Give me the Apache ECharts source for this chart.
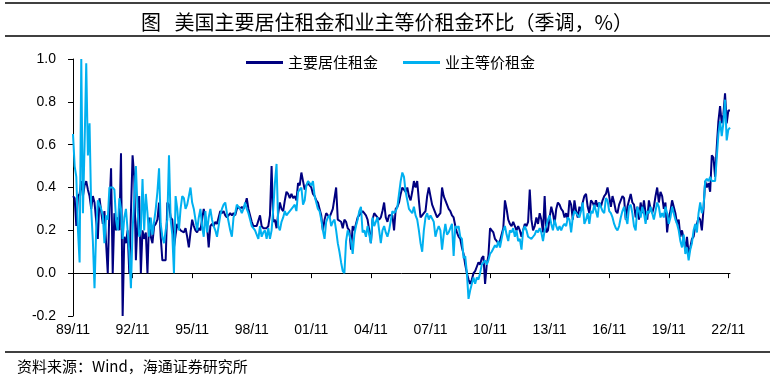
<!DOCTYPE html>
<html><head><meta charset="utf-8">
<script src="https://cdn.jsdelivr.net/npm/echarts/dist/echarts.min.js"></script>
<style>html,body{margin:0;padding:0;background:#fff}#c{width:774px;height:385px}</style>
</head><body><div id="c"></div>
<script>
// monthly, 1989/11 .. 2022/12
const startYear = 1989, startMonth = 11, monthCount = 398;
const categories = [];
for (let k = 0; k < monthCount; k++) {
  const m = (startMonth - 1 + k) % 12 + 1;
  const y = startYear + Math.floor((startMonth - 1 + k) / 12);
  categories.push(String(y % 100).padStart(2, '0') + '/' + String(m).padStart(2, '0'));
}
const seriesNames = ['主要居住租金', '业主等价租金'];
// 主要居住租金 环比(%)
const rentPrimary = [
  0.36, 0.35,
  0.22, 0.36, 0.37, 0.43, 0.36, 0.41, 0.43, 0.39, 0.36, 0.30, 0.36, 0.33,
  0.33, 0.16, 0.35, 0.35, 0.23, 0.29, 0.14, 0.00, 0.30, 0.49, 0.00, 0.28,
  0.20, 0.26, 0.20, 0.56, -0.20, 0.17, 0.14, 0.20, 0.00, 0.28, 0.55, 0.45,
  0.06, 0.24, 0.36, 0.00, 0.20, 0.16, 0.19, 0.00, 0.26, 0.17, 0.14, 0.22,
  0.23, 0.25, 0.33, 0.17, 0.06, 0.06, 0.06, 0.33, 0.32, 0.26, 0.25, 0.12,
  0.18, 0.23, 0.21, 0.20, 0.20, 0.19, 0.21, 0.17, 0.12, 0.19, 0.25, 0.22,
  0.20, 0.19, 0.21, 0.20, 0.25, 0.30, 0.30, 0.22, 0.12, 0.22, 0.23, 0.22,
  0.24, 0.23, 0.26, 0.29, 0.28, 0.29, 0.27, 0.26, 0.27, 0.28, 0.27, 0.28,
  0.27, 0.30, 0.31, 0.30, 0.31, 0.30, 0.32, 0.35, 0.30, 0.30, 0.24, 0.22,
  0.22, 0.22, 0.22, 0.27, 0.22, 0.21, 0.21, 0.21, 0.22, 0.27, 0.50, 0.24,
  0.25, 0.21, 0.28, 0.33, 0.30, 0.29, 0.34, 0.38, 0.37, 0.35, 0.37, 0.35,
  0.36, 0.34, 0.42, 0.41, 0.47, 0.43, 0.39, 0.41, 0.42, 0.41, 0.40, 0.37,
  0.36, 0.34, 0.33, 0.30, 0.27, 0.20, 0.25, 0.28, 0.27, 0.26, 0.28, 0.30,
  0.30, 0.40, 0.25, 0.25, 0.24, 0.21, 0.25, 0.24, 0.21, 0.20, 0.11, 0.22,
  0.20, 0.23, 0.26, 0.26, 0.28, 0.29, 0.28, 0.27, 0.25, 0.20, 0.14, 0.25,
  0.28, 0.27, 0.27, 0.25, 0.26, 0.29, 0.33, 0.26, 0.24, 0.27, 0.27, 0.27,
  0.20, 0.30, 0.31, 0.33, 0.37, 0.40, 0.39, 0.38, 0.40, 0.36, 0.34, 0.38,
  0.43, 0.40, 0.43, 0.34, 0.26, 0.27, 0.28, 0.29, 0.36, 0.40, 0.36, 0.32,
  0.30, 0.28, 0.26, 0.26, 0.28, 0.40, 0.36, 0.34, 0.32, 0.30, 0.29, 0.27,
  0.26, 0.22, 0.19, 0.17, 0.16, 0.12, 0.09, 0.04, 0.00, -0.03, -0.05, -0.03,
  0.00, 0.01, 0.03, 0.05, 0.04, 0.07, 0.08, -0.05, 0.04, 0.08, 0.21, 0.20,
  0.19, 0.16, 0.16, 0.14, 0.15, 0.18, 0.21, 0.34, 0.30, 0.25, 0.23, 0.22,
  0.24, 0.22, 0.20, 0.22, 0.20, 0.17, 0.20, 0.23, 0.22, 0.24, 0.39, 0.25,
  0.20, 0.22, 0.26, 0.23, 0.28, 0.25, 0.19, 0.36, 0.19, 0.20, 0.26, 0.31,
  0.28, 0.23, 0.30, 0.33, 0.32, 0.30, 0.29, 0.26, 0.28, 0.25, 0.34, 0.32,
  0.25, 0.34, 0.29, 0.26, 0.31, 0.29, 0.33, 0.36, 0.37, 0.31, 0.28, 0.34,
  0.33, 0.31, 0.34, 0.31, 0.33, 0.31, 0.34, 0.36, 0.37, 0.40, 0.36, 0.31,
  0.36, 0.33, 0.29, 0.28, 0.32, 0.34, 0.36, 0.35, 0.25, 0.31, 0.34, 0.37,
  0.33, 0.32, 0.26, 0.31, 0.25, 0.33, 0.28, 0.34, 0.28, 0.25, 0.34, 0.30,
  0.28, 0.31, 0.36, 0.40, 0.33, 0.38, 0.36, 0.30, 0.33, 0.19, 0.26, 0.29,
  0.34, 0.31, 0.28, 0.23, 0.25, 0.17, 0.20, 0.16, 0.11, 0.17, 0.09, 0.12,
  0.16, 0.17, 0.22, 0.23, 0.26, 0.25, 0.20, 0.30, 0.43, 0.40, 0.42, 0.38,
  0.55, 0.54, 0.45, 0.59, 0.71, 0.78, 0.70, 0.74, 0.84, 0.70, 0.76, 0.76
];
// 业主等价租金 环比(%)
const ownersEquivRent = [
  0.65, 0.50,
  0.45, 0.20, 0.05, 1.00, 0.28, 0.60, 0.98, 0.55, 0.70, 0.30, 0.15, -0.07,
  0.20, 0.34, 0.34, 0.30, 0.27, 0.14, 0.27, 0.25, 0.40, 0.40, 0.40, 0.39,
  0.25, 0.20, 0.35, 0.30, 0.16, 0.26, 0.30, 0.20, 0.10, -0.07, 0.20, 0.35,
  0.50, 0.30, 0.17, 0.20, 0.44, 0.20, 0.37, 0.28, 0.17, 0.26, 0.18, 0.18,
  0.30, 0.38, 0.49, 0.23, 0.17, 0.14, 0.20, 0.25, 0.55, 0.25, 0.18, 0.00,
  0.36, 0.30, 0.20, 0.30, 0.36, 0.35, 0.30, 0.32, 0.36, 0.40, 0.33, 0.30,
  0.25, 0.20, 0.26, 0.30, 0.22, 0.17, 0.29, 0.19, 0.26, 0.30, 0.25, 0.22,
  0.20, 0.17, 0.22, 0.27, 0.30, 0.32, 0.33, 0.28, 0.24, 0.20, 0.17, 0.26,
  0.28, 0.32, 0.31, 0.30, 0.28, 0.30, 0.33, 0.30, 0.28, 0.25, 0.22, 0.21,
  0.20, 0.20, 0.16, 0.22, 0.17, 0.19, 0.20, 0.16, 0.21, 0.16, 0.20, 0.30,
  0.42, 0.51, 0.22, 0.20, 0.24, 0.26, 0.29, 0.27, 0.28, 0.29, 0.29, 0.31,
  0.32, 0.29, 0.38, 0.39, 0.40, 0.32, 0.34, 0.41, 0.43, 0.42, 0.41, 0.43,
  0.36, 0.33, 0.30, 0.29, 0.25, 0.20, 0.16, 0.24, 0.26, 0.27, 0.22, 0.24,
  0.25, 0.20, 0.14, 0.10, 0.05, 0.01, 0.00, 0.15, 0.20, 0.18, 0.15, 0.09,
  0.18, 0.22, 0.25, 0.29, 0.31, 0.19, 0.20, 0.17, 0.22, 0.18, 0.14, 0.26,
  0.22, 0.22, 0.26, 0.20, 0.14, 0.20, 0.22, 0.19, 0.17, 0.20, 0.20, 0.29,
  0.28, 0.29, 0.31, 0.37, 0.43, 0.47, 0.45, 0.38, 0.34, 0.30, 0.29, 0.28,
  0.31, 0.27, 0.25, 0.20, 0.14, 0.10, 0.20, 0.26, 0.28, 0.25, 0.27, 0.27,
  0.24, 0.17, 0.20, 0.22, 0.20, 0.11, 0.18, 0.23, 0.18, 0.19, 0.21, 0.23,
  0.08, 0.22, 0.21, 0.22, 0.17, 0.16, 0.07, 0.08, 0.00, -0.12, -0.08, -0.05,
  -0.02, -0.05, -0.02, -0.03, 0.00, 0.04, 0.04, 0.06, 0.04, 0.06, 0.09, 0.10,
  0.10, 0.13, 0.12, 0.15, 0.12, 0.16, 0.20, 0.22, 0.18, 0.15, 0.20, 0.19,
  0.21, 0.17, 0.20, 0.15, 0.16, 0.11, 0.20, 0.22, 0.20, 0.17, 0.17, 0.16,
  0.17, 0.18, 0.20, 0.19, 0.21, 0.19, 0.15, 0.20, 0.22, 0.25, 0.27, 0.23,
  0.20, 0.25, 0.22, 0.20, 0.22, 0.20, 0.22, 0.23, 0.22, 0.26, 0.25, 0.19,
  0.26, 0.29, 0.28, 0.28, 0.26, 0.29, 0.33, 0.23, 0.25, 0.28, 0.23, 0.29,
  0.28, 0.32, 0.29, 0.26, 0.33, 0.33, 0.29, 0.28, 0.35, 0.34, 0.29, 0.28,
  0.26, 0.23, 0.21, 0.20, 0.22, 0.26, 0.29, 0.31, 0.26, 0.23, 0.31, 0.32,
  0.28, 0.22, 0.20, 0.31, 0.29, 0.26, 0.31, 0.28, 0.23, 0.29, 0.28, 0.31,
  0.28, 0.25, 0.29, 0.33, 0.31, 0.26, 0.28, 0.26, 0.31, 0.28, 0.23, 0.26,
  0.31, 0.28, 0.25, 0.23, 0.20, 0.15, 0.12, 0.18, 0.09, 0.12, 0.06, 0.11,
  0.14, 0.20, 0.23, 0.19, 0.28, 0.33, 0.28, 0.31, 0.43, 0.44, 0.43, 0.45,
  0.43, 0.43, 0.43, 0.54, 0.65, 0.71, 0.64, 0.70, 0.81, 0.62, 0.67, 0.68
];
const yMin = -0.2, yMax = 1.0, yStep = 0.2;
const labelEvery = 36;
const titleText = '图   美国主要居住租金和业主等价租金环比（季调，%）';
const sourceText = '资料来源：Wind，海通证券研究所';
const colors = ['#000080', '#00B0F0'];

const chart = echarts.init(document.getElementById('c'), null, {renderer: 'canvas'});
const cjk = "'Noto Sans CJK SC', 'Noto Sans', sans-serif";
const latin = "'Liberation Sans', Arial, sans-serif";
chart.setOption({
  animation: false,
  backgroundColor: '#fff',
  title: {
    text: titleText, left: 'center', top: 7,
    textStyle: {fontSize: 20, fontWeight: 'normal', color: '#000', fontFamily: cjk}
  },
  legend: {
    data: seriesNames, left: 241, top: 50, icon: 'rect', itemWidth: 37, itemHeight: 3,
    itemGap: 25, textStyle: {fontSize: 15, color: '#000', fontFamily: cjk}
  },
  grid: {left: 73, right: 44, top: 59, bottom: 69, containLabel: false},
  xAxis: [
    {
      type: 'category', data: categories, boundaryGap: false, position: 'bottom',
      axisLine: {onZero: true, lineStyle: {color: '#000', width: 1}},
      axisTick: {show: true, interval: labelEvery - 1, length: 5, lineStyle: {color: '#000'}},
      axisLabel: {show: false}, splitLine: {show: false}
    },
    {
      type: 'category', data: categories, boundaryGap: false, position: 'bottom',
      axisLine: {show: false, onZero: false}, axisTick: {show: false},
      axisLabel: {interval: labelEvery - 1, margin: 7, fontSize: 14, color: '#000', fontFamily: latin},
      splitLine: {show: false}
    }
  ],
  yAxis: {
    type: 'value', min: yMin, max: yMax, interval: yStep,
    axisLine: {show: true, lineStyle: {color: '#000', width: 1}},
    axisTick: {show: true, length: 5, lineStyle: {color: '#000'}},
    axisLabel: {margin: 17, fontSize: 14, color: '#000', fontFamily: latin,
      formatter: v => v.toFixed(1)},
    splitLine: {show: false}
  },
  series: [
    {name: seriesNames[0], type: 'line', data: rentPrimary, xAxisIndex: 0, symbol: 'none',
      lineStyle: {color: colors[0], width: 2}, itemStyle: {color: colors[0]}},
    {name: seriesNames[1], type: 'line', data: ownersEquivRent, xAxisIndex: 0, symbol: 'none',
      lineStyle: {color: colors[1], width: 2}, itemStyle: {color: colors[1]}}
  ],
  graphic: [
    {type: 'line', shape: {x1: 5, y1: 3, x2: 770, y2: 3}, style: {stroke: '#000', lineWidth: 1.5}},
    {type: 'line', shape: {x1: 5, y1: 36, x2: 770, y2: 36}, style: {stroke: '#000', lineWidth: 1.5}},
    {type: 'line', shape: {x1: 5, y1: 352, x2: 770, y2: 352}, style: {stroke: '#000', lineWidth: 1.5}},
    {type: 'text', left: 17, top: 359, style: {text: sourceText, fontSize: 15, fill: '#000', fontFamily: cjk}}
  ]
});
</script></body></html>
